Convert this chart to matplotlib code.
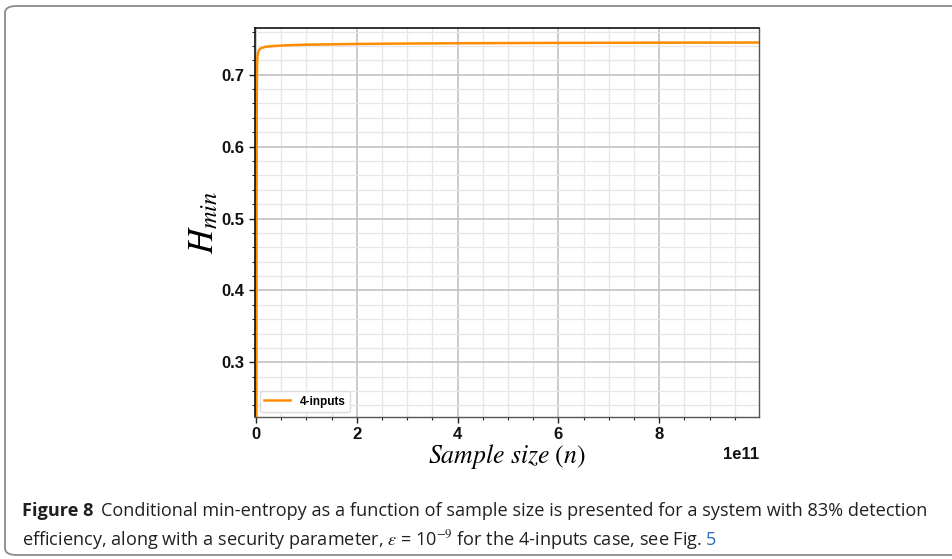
#!/usr/bin/env python3

import matplotlib
matplotlib.use('Agg')
import matplotlib.pyplot as plt
import matplotlib.patches as mpatches
from matplotlib.ticker import MultipleLocator


# =============================================================================
#                               Data
# =============================================================================
# Sample size n and conditional min-entropy
sampleSize = [5e8, 1.0e9, 1.5e9, 2.0e9, 3.0e9, 5.0e9, 8.0e9, 1.2e10, 2.0e10,
              4.0e10, 7.0e10, 1.0e11, 2.0e11, 3.0e11, 4.0e11, 6.0e11,
              8.0e11, 1.0e12]
hMin = [0.05, 0.40, 0.66, 0.712, 0.727, 0.733, 0.736, 0.7375, 0.7390,
        0.7402, 0.7412, 0.7418, 0.7428, 0.7434, 0.7438, 0.7443,
        0.7446, 0.7448]
seriesName = '4-inputs'

captionBold = 'Figure 8'
captionLine1 = ('Conditional min-entropy as a function of sample size is presented '
                'for a system with 83% detection')
captionLine2 = ('efficiency, along with a security parameter, $\\varepsilon$ = 10$^{-9}$ '
                'for the 4-inputs case, see Fig.')
captionRef = '5'

# =============================================================================
#                           Figure settings
# =============================================================================
plt.rcParams['font.family'] = ['Liberation Sans', 'DejaVu Sans']
plt.rcParams['mathtext.fontset'] = 'stix'

fig = plt.figure(figsize=(9.52, 5.59), dpi=100)
W, H = 952, 559
ax = fig.add_axes([255 / W, 1 - 417 / H, (759 - 255) / W, (417 - 28) / H])

# Outer rounded frame of the figure box
frame = mpatches.FancyBboxPatch((5 / W, 4 / H), 1.2, 1 - 10 / H,
                                boxstyle='round,pad=0,rounding_size=0.012',
                                transform=fig.transFigure, fill=False,
                                edgecolor='#8a8a8a', linewidth=1.3,
                                clip_on=False)
fig.patches.append(frame)

# =============================================================================
#                              Chart
# =============================================================================
ax.plot(sampleSize, hMin, color='#ff8c00', linewidth=1.8, label=seriesName)
ax.set_xlim(-0.02e11, 9.98e11)
ax.set_ylim(0.224, 0.765)

ax.xaxis.set_major_locator(MultipleLocator(2e11))
ax.xaxis.set_minor_locator(MultipleLocator(0.5e11))
ax.yaxis.set_major_locator(MultipleLocator(0.1))
ax.yaxis.set_minor_locator(MultipleLocator(0.02))

ax.grid(which='major', color='#c2c2c2', linewidth=1.2)
ax.grid(which='minor', color='#e6e6e6', linewidth=0.9)
ax.set_axisbelow(True)

ax.tick_params(which='both', direction='out', colors='#222222')
ax.tick_params(which='major', length=4, width=1, labelsize=12,
               labelcolor='#111111')
ax.tick_params(which='minor', length=2.5, width=0.8)
offset = ax.xaxis.get_offset_text()
offset.set_fontsize(12)
offset.set_color('#111111')
offset.set_fontweight('bold')

for side in ['left', 'top']:
    ax.spines[side].set_color('#111111')
    ax.spines[side].set_linewidth(1.2)
for side in ['right', 'bottom']:
    ax.spines[side].set_color('#555555')
    ax.spines[side].set_linewidth(1.0)

ax.set_ylabel('$H_{min}$', fontsize=25, labelpad=1)
ax.set_xlabel('$Sample\\ size\\ (n)$', fontsize=18.5, labelpad=0)

leg = ax.legend(loc='lower left', prop={'weight': 'bold', 'size': 8.5},
                fancybox=True, framealpha=1, edgecolor='#dddddd',
                handlelength=2.2, borderaxespad=0.4)

# bold tick labels (ticks exist after a first draw)
fig.canvas.draw()
for lab in ax.get_xticklabels() + ax.get_yticklabels():
    lab.set_fontweight('bold')

# =============================================================================
#                              Caption
# =============================================================================
capColor = '#231f20'
capFont = ['Open Sans', 'DejaVu Sans']
capSize = 13.1
renderer = fig.canvas.get_renderer()

t = fig.text(22 / W, 1 - 516 / H, captionBold, fontsize=capSize, fontweight='bold',
             family=capFont, color=capColor)
bb = t.get_window_extent(renderer)
fig.text((bb.x1 + 8) / W, 1 - 516 / H, captionLine1, fontsize=capSize,
         family=capFont, color=capColor)
t2 = fig.text(22 / W, 1 - 545 / H, captionLine2, fontsize=capSize,
              family=capFont, color=capColor)
bb2 = t2.get_window_extent(renderer)
fig.text((bb2.x1 + 4) / W, 1 - 545 / H, captionRef, fontsize=capSize,
         family=capFont, color='#2a6ebb')

fig.savefig('out.png', dpi=100)
